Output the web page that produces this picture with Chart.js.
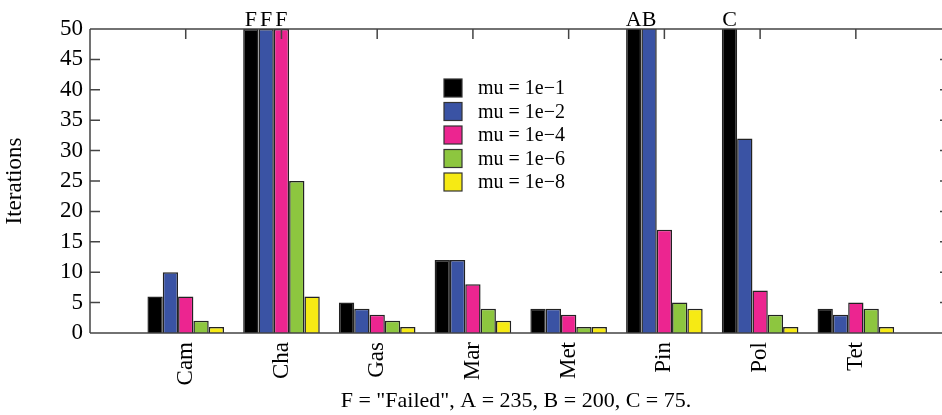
<!DOCTYPE html>
<html>
<head>
<meta charset="utf-8">
<script src="https://cdn.jsdelivr.net/npm/chart.js@4"></script>
<style>
  body { margin: 0; background: #fff; }
</style>
</head>
<body>
<canvas id="iterChart" width="942" height="415"></canvas>
<script>
const problems = ["Cam", "Cha", "Gas", "Mar", "Met", "Pin", "Pol", "Tet"];
const seriesLabels = ["mu = 1e\u22121", "mu = 1e\u22122", "mu = 1e\u22124", "mu = 1e\u22126", "mu = 1e\u22128"];
const mu1 = [6, 50, 5, 12, 4, 235, 75, 4];
const mu2 = [10, 50, 4, 12, 4, 200, 32, 3];
const mu4 = [6, 50, 3, 8, 3, 17, 7, 5];
const mu6 = [2, 25, 2, 4, 1, 5, 3, 4];
const mu8 = [1, 6, 1, 2, 1, 4, 1, 1];
const yTicks = [0, 5, 10, 15, 20, 25, 30, 35, 40, 45, 50];
// letters over the bars that go off the top: [series, problem, text]
const marks = [[0, 1, "F"], [1, 1, "F"], [2, 1, "F"], [0, 5, "A"], [1, 5, "B"], [0, 6, "C"]];
const footer = 'F = "Failed", A = 235, B = 200, C = 75.';

const colors = ["#000000", "#3a53a4", "#ec2590", "#8dc63f", "#f6ea14"];
const serif = "'Liberation Serif', 'Times New Roman', serif";

//frame, tick marks, letters and legend, gnuplot style
const framePlugin = {
    id: 'frame',
    afterDatasetsDraw(chart) {
        const ctx = chart.ctx;
        const a = chart.chartArea;
        const x = chart.scales.x;
        const y = chart.scales.y;
        ctx.save();
        ctx.strokeStyle = '#444';
        ctx.lineWidth = 1.5;
        ctx.beginPath();
        ctx.moveTo(a.left, a.top); ctx.lineTo(a.right, a.top);
        ctx.moveTo(a.left, a.bottom); ctx.lineTo(a.right, a.bottom);
        ctx.moveTo(a.left, a.top); ctx.lineTo(a.left, a.bottom);
        yTicks.forEach(v => {
            const py = y.getPixelForValue(v);
            ctx.moveTo(a.left, py); ctx.lineTo(a.left + 10, py);
            ctx.moveTo(a.right - 2, py); ctx.lineTo(a.right, py);
        });
        problems.forEach((p, i) => {
            const px = x.getPixelForValue(i);
            ctx.moveTo(px, a.top); ctx.lineTo(px, a.top + 10);
        });
        ctx.stroke();

        ctx.fillStyle = '#000';
        ctx.font = '22px ' + serif;
        ctx.textAlign = 'center';
        ctx.textBaseline = 'bottom';
        marks.forEach(([s, i, t]) => {
            const bar = chart.getDatasetMeta(s).data[i];
            ctx.fillText(t, bar.x, a.top + 2);
        });

        // legend inside the plot
        ctx.textAlign = 'left';
        ctx.textBaseline = 'middle';
        ctx.font = '20px ' + serif;
        ctx.lineWidth = 1.2;
        ctx.strokeStyle = '#333';
        chart.data.datasets.forEach((ds, s) => {
            const cy = 88 + s * 23.5;
            ctx.fillStyle = ds.backgroundColor;
            ctx.fillRect(444, cy - 9, 18, 18);
            ctx.strokeRect(444, cy - 9, 18, 18);
            ctx.fillStyle = '#000';
            ctx.fillText(ds.label, 478, cy + 1);
        });
        ctx.restore();
    }
};

new Chart(document.getElementById('iterChart'), {
    type: 'bar',
    data: {
        datasets: [mu1, mu2, mu4, mu6, mu8].map((vals, s) => ({
            label: seriesLabels[s],
            data: vals.map((v, i) => ({ x: i, y: v })),
            backgroundColor: colors[s],
            borderColor: '#222',
            borderWidth: 1.5,
            categoryPercentage: 0.8,
            barPercentage: 1
        }))
    },
    options: {
        responsive: false,
        animation: false,
        layout: { padding: { top: 29, right: 0, left: 0, bottom: 0 } },
        plugins: {
            legend: { display: false },
            tooltip: { enabled: false }
        },
        scales: {
            x: {
                type: 'linear',
                offset: false,
                min: -1,
                max: 7.9,
                grid: { display: false, drawTicks: false, offset: false },
                border: { display: false },
                afterBuildTicks: s => { s.ticks = problems.map((p, i) => ({ value: i })); },
                afterFit: s => { s.height = 82; },
                ticks: {
                    minRotation: 90,
                    maxRotation: 90,
                    autoSkip: false,
                    padding: 9,
                    color: '#000',
                    font: { family: serif, size: 23 },
                    callback: v => problems[v]
                },
                title: {
                    display: true,
                    text: footer,
                    color: '#000',
                    font: { family: serif, size: 22 },
                    padding: { top: 0, bottom: 1 }
                }
            },
            y: {
                min: 0,
                max: 50,
                afterBuildTicks: s => { s.ticks = yTicks.map(v => ({ value: v })); },
                afterFit: s => { s.width = 90; },
                grid: { display: false, drawTicks: false },
                border: { display: false },
                ticks: {
                    autoSkip: false,
                    padding: 7,
                    color: '#000',
                    font: { family: serif, size: 23 }
                },
                title: {
                    display: true,
                    text: 'Iterations',
                    color: '#000',
                    font: { family: serif, size: 23 },
                    padding: { top: 1, bottom: 0 }
                }
            }
        }
    },
    plugins: [framePlugin]
});
</script>
</body>
</html>
